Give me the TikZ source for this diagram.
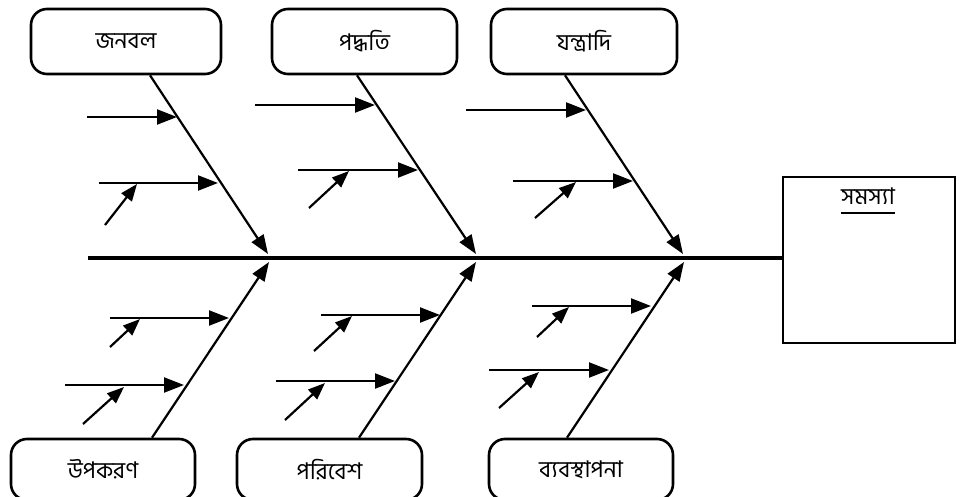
\documentclass[tikz,border=0pt]{standalone}
\usepackage{fontspec}
\newfontfamily\bn[Script=Bengali]{Hind Siliguri}
\usetikzlibrary{arrows.meta}
\begin{document}
\begin{tikzpicture}[x=1pt,y=-1pt,
  cause/.style={draw, line width=2.6pt, rounded corners=16pt, minimum height=65pt,
    inner sep=0pt, font=\bn\fontsize{23}{26}\selectfont},
  bone/.style={line width=2.2pt, -{Triangle[length=19pt,width=14pt]}},
  rib/.style={line width=2.2pt, -{Triangle[length=20pt,width=15pt]}},
  twig/.style={line width=2.2pt, -{Triangle[length=17pt,width=13pt]}}]

\useasboundingbox (0,0) rectangle (961,497);
\clip (0,0) rectangle (961,497);

% cause boxes, top row
\node[cause, minimum width=190pt] (jb) at (126,41.5) {জনবল};
\node[cause, minimum width=185pt] (pb) at (364.5,41.5) {পদ্ধতি};
\node[cause, minimum width=186pt] (yb) at (584,41.5) {যন্ত্রাদি};

% cause boxes, bottom row (cut by the lower edge)
\node[cause, minimum width=184pt, minimum height=61pt] (ub) at (103,469.5) {উপকরণ};
\node[cause, minimum width=185pt, minimum height=61pt] (rb) at (329.5,469.5) {পরিবেশ};
\node[cause, minimum width=184pt, minimum height=61pt] (mb) at (581,469.5) {ব্যবস্থাপনা};

% effect box
\node[draw, line width=2.6pt, minimum width=172pt, minimum height=166pt, inner sep=0pt] (prob) at (869,260) {};
\node[font=\bn\fontsize{23}{26}\selectfont, inner sep=0pt, anchor=base] (ptitle) at (868,205) {সমস্যা};
\draw[line width=1.2pt] ([yshift=-8pt]ptitle.base west) -- ([yshift=-8pt]ptitle.base east);

% spine
\coordinate (sp) at (88,258);
\draw[line width=3.2pt] (sp) -- (sp -| prob.west);

% junctions on the spine
\coordinate (t1) at (268,254);
\coordinate (t2) at (476,254);
\coordinate (t3) at (683,254);
\coordinate (b1) at (269,262);
\coordinate (b2) at (476,262);
\coordinate (b3) at (684,262);

% main bones
\draw[bone] ([xshift=24pt]jb.south) -- (t1);
\draw[bone] ([xshift=-7.5pt]pb.south) -- (t2);
\draw[bone] ([xshift=-19pt]yb.south) -- (t3);
\draw[bone] ([xshift=49pt]ub.north) -- (b1);
\draw[bone] ([xshift=29.5pt]rb.north) -- (b2);
\draw[bone] ([xshift=-14pt]mb.north) -- (b3);

% ribs and twigs: জনবল
\coordinate (ja1) at (87,117);  \coordinate (ja2) at (177,117);
\coordinate (jc1) at (99,183);  \coordinate (jc2) at (218,183);
\coordinate (jt1) at (105,225); \coordinate (jt2) at (137,184);
\draw[rib] (ja1) -- (ja2);
\draw[rib] (jc1) -- (jc2);
\draw[twig] (jt1) -- (jt2);

% পদ্ধতি
\coordinate (pa1) at (255,105); \coordinate (pa2) at (375,105);
\coordinate (pc1) at (298,170); \coordinate (pc2) at (418,170);
\coordinate (pt1) at (309,208); \coordinate (pt2) at (349,171);
\draw[rib] (pa1) -- (pa2);
\draw[rib] (pc1) -- (pc2);
\draw[twig] (pt1) -- (pt2);

% যন্ত্রাদি
\coordinate (ya1) at (466,110); \coordinate (ya2) at (586,110);
\coordinate (yc1) at (513,181); \coordinate (yc2) at (633,181);
\coordinate (yt1) at (535,218); \coordinate (yt2) at (576,182);
\draw[rib] (ya1) -- (ya2);
\draw[rib] (yc1) -- (yc2);
\draw[twig] (yt1) -- (yt2);

% উপকরণ
\coordinate (ua1) at (110,318); \coordinate (ua2) at (229,318);
\coordinate (ut1) at (110,347); \coordinate (ut2) at (140,319);
\coordinate (uc1) at (65,385);  \coordinate (uc2) at (184,385);
\coordinate (us1) at (83,424);  \coordinate (us2) at (124,387);
\draw[rib] (ua1) -- (ua2);
\draw[twig] (ut1) -- (ut2);
\draw[rib] (uc1) -- (uc2);
\draw[twig] (us1) -- (us2);

% পরিবেশ
\coordinate (ra1) at (321,315); \coordinate (ra2) at (440,315);
\coordinate (rt1) at (314,351); \coordinate (rt2) at (352,316);
\coordinate (rc1) at (276,381); \coordinate (rc2) at (395,381);
\coordinate (rs1) at (285,420); \coordinate (rs2) at (325,383);
\draw[rib] (ra1) -- (ra2);
\draw[twig] (rt1) -- (rt2);
\draw[rib] (rc1) -- (rc2);
\draw[twig] (rs1) -- (rs2);

% ব্যবস্থাপনা
\coordinate (ma1) at (532,306); \coordinate (ma2) at (651,306);
\coordinate (mt1) at (537,337); \coordinate (mt2) at (569,307);
\coordinate (mc1) at (489,370); \coordinate (mc2) at (609,370);
\coordinate (ms1) at (499,408); \coordinate (ms2) at (539,372);
\draw[rib] (ma1) -- (ma2);
\draw[twig] (mt1) -- (mt2);
\draw[rib] (mc1) -- (mc2);
\draw[twig] (ms1) -- (ms2);

\end{tikzpicture}
\end{document}
